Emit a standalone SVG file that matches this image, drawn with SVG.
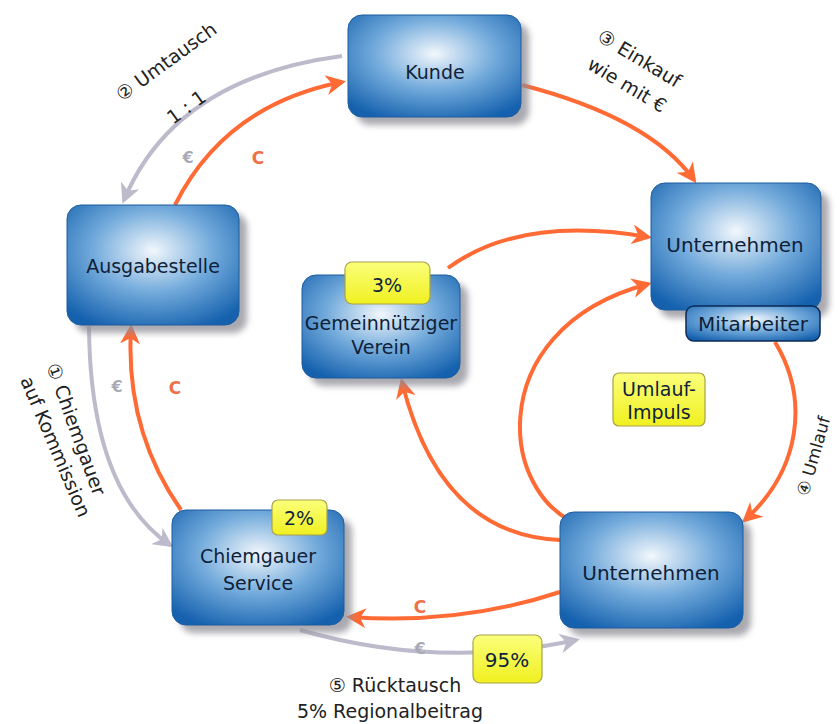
<svg xmlns="http://www.w3.org/2000/svg" width="839" height="724" viewBox="0 0 839 724">
<defs>
<radialGradient id="blue" cx="50%" cy="38%" r="70%">
<stop offset="0" stop-color="#f2f7fc"/>
<stop offset="0.5" stop-color="#72aadb"/>
<stop offset="1" stop-color="#1561ae"/>
</radialGradient>
<linearGradient id="yel" x1="0" y1="0" x2="0" y2="1">
<stop offset="0" stop-color="#fbff7a"/>
<stop offset="1" stop-color="#f0f020"/>
</linearGradient>
<filter id="blur" x="-20%" y="-20%" width="140%" height="140%"><feGaussianBlur stdDeviation="3"/></filter>
<marker id="ao" viewBox="0 0 10 10" refX="8" refY="5" markerWidth="5" markerHeight="5" orient="auto-start-reverse" markerUnits="strokeWidth"><path d="M0,0 L10,5 L0,10 L3,5 z" fill="#ff6a35"/></marker>
<marker id="ag" viewBox="0 0 10 10" refX="8" refY="5" markerWidth="5" markerHeight="5" orient="auto-start-reverse" markerUnits="strokeWidth"><path d="M0,0 L10,5 L0,10 L3,5 z" fill="#bdbbcb"/></marker>
</defs>
<style>
.sh{fill:#8c8c95;opacity:0.75;filter:url(#blur)}
.box{fill:url(#blue);stroke:#1d5d9e;stroke-width:1}
.t{font-family:"DejaVu Sans",Verdana,sans-serif;font-size:19px;fill:#0f1f3a;text-anchor:middle}
.y{fill:url(#yel);stroke:#a8a24a;stroke-width:1.2}
.o{fill:none;stroke:#ff6a35;stroke-width:4;marker-end:url(#ao)}
.g{fill:none;stroke:#bdbbcb;stroke-width:4;marker-end:url(#ag)}
.lab{font-family:"DejaVu Sans",Verdana,sans-serif;font-size:19px;fill:#222}
.co{font-family:"DejaVu Sans",Verdana,sans-serif;font-size:17px;font-weight:bold;fill:#f07048;text-anchor:middle}
.ce{font-family:"DejaVu Sans",Verdana,sans-serif;font-size:16px;font-weight:bold;fill:#a8aab8;text-anchor:middle}
</style>
<g id="connectors">
<path class="o" d="M175,205 Q225,105 342,82"/>
<path class="g" d="M342,56 Q175,78 124,200"/>
<path class="o" d="M522,85 Q650,118 694,180"/>
<path class="o" d="M448,268 Q520,215 648,237"/>
<path class="o" d="M590,527 C500,510 475,330 648,284"/>
<path class="o" d="M775,342 C810,400 800,470 745,520"/>
<path class="o" d="M560,540 Q440,535 402,382"/>
<path class="o" d="M560,592 Q460,625 350,617"/>
<path class="g" d="M300,630 Q440,670 576,640"/>
<path class="o" d="M181,510 Q125,430 131,328"/>
<path class="g" d="M89,326 Q90,490 170,545"/>
</g>
<g id="ausgabestelle">
<rect class="sh" x="75" y="213" width="172" height="120" rx="14"/>
<rect class="box" x="67" y="205" width="172" height="120" rx="14"/>
<text class="t" x="153" y="273">Ausgabestelle</text>
</g>
<g id="kunde">
<rect class="sh" x="356" y="23" width="173" height="102" rx="14"/>
<rect class="box" x="348" y="15" width="173" height="102" rx="14"/>
<text class="t" x="435" y="79">Kunde</text>
</g>
<g id="unternehmen1">
<rect class="sh" x="659" y="191" width="170" height="127" rx="14"/>
<rect class="box" x="651" y="183" width="170" height="127" rx="14"/>
<text class="t" x="735" y="252" style="font-size:20px">Unternehmen</text>
</g>
<g id="mitarbeiter">
<rect class="box" x="686" y="306" width="134" height="35" rx="8" style="stroke:#0d2a55;stroke-width:1.5"/>
<text class="t" x="753" y="331" style="font-size:20px">Mitarbeiter</text>
</g>
<g id="verein">
<rect class="sh" x="310" y="283" width="158" height="103" rx="14"/>
<rect class="box" x="302" y="275" width="158" height="103" rx="14"/>
<text class="t" x="381" y="330">Gemeinnütziger</text>
<text class="t" x="381" y="354">Verein</text>
<rect class="y" x="345" y="262" width="85" height="42" rx="7"/>
<text class="t" x="387" y="292">3%</text>
</g>
<g id="impuls">
<rect class="y" x="613" y="373" width="92" height="53" rx="6"/>
<text class="t" x="659" y="396">Umlauf-</text>
<text class="t" x="659" y="419">Impuls</text>
</g>
<g id="service">
<rect class="sh" x="180" y="518" width="172" height="115" rx="14"/>
<rect class="box" x="172" y="510" width="172" height="115" rx="14"/>
<text class="t" x="258" y="563">Chiemgauer</text>
<text class="t" x="258" y="590">Service</text>
<rect class="y" x="272" y="500" width="55" height="35" rx="6"/>
<text class="t" x="299" y="525">2%</text>
</g>
<g id="unternehmen2">
<rect class="sh" x="568" y="520" width="183" height="116" rx="14"/>
<rect class="box" x="560" y="512" width="183" height="116" rx="14"/>
<text class="t" x="651" y="580" style="font-size:20px">Unternehmen</text>
</g>
<g id="p95">
<rect class="y" x="473" y="635" width="69" height="48" rx="7"/>
<text class="t" x="507" y="667" style="font-size:20px">95%</text>
</g>
<g id="labels">
<text class="co" x="258" y="164">C</text>
<text class="ce" x="188" y="163">€</text>
<text class="co" x="175" y="394">C</text>
<text class="ce" x="117" y="392">€</text>
<text class="co" x="420" y="613">C</text>
<text class="ce" x="420" y="654">€</text>
<text class="lab" transform="translate(122,102) rotate(-36)">② Umtausch</text>
<text class="lab" transform="translate(173,125) rotate(-36)">1 : 1</text>
<text class="lab" transform="translate(596,40) rotate(31)">③ Einkauf</text>
<text class="lab" transform="translate(586,68) rotate(31)">wie mit €</text>
<text class="lab" transform="translate(46,366) rotate(70)">① Chiemgauer</text>
<text class="lab" transform="translate(20,380) rotate(67)">auf Kommission</text>
<text class="lab" style="font-size:17px" transform="translate(808,497) rotate(-74)">④ Umlauf</text>
<text class="lab" x="395" y="692" text-anchor="middle">⑤ Rücktausch</text>
<text class="lab" x="390" y="718" text-anchor="middle">5% Regionalbeitrag</text>
</g>
</svg>
